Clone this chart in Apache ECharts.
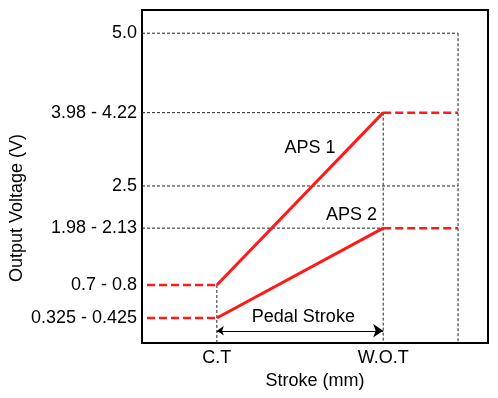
<!DOCTYPE html>
<html>
<head>
<meta charset="utf-8">
<script src="https://cdn.jsdelivr.net/npm/echarts@6/dist/echarts.min.js"></script>
<style>
html, body { margin: 0; padding: 0; background: #fff; }
#chart { width: 498px; height: 398px; }
</style>
</head>
<body>
<div id="chart"></div>
<script>
// schematic levels of the sketch (not to scale) and the labels printed there
const yLevels = [0.34, 0.88, 1.81, 2.5, 3.7, 5.0];
const yLabels = ["0.325 - 0.425", "0.7 - 0.8", "1.98 - 2.13", "2.5", "3.98 - 4.22", "5.0"];
const xLevels = [0, 100];
const xLabels = ["C.T", "W.O.T"];
const xRange = [-45, 163];
const yRange = [-0.07, 5.38];
const farStroke = 145;
const idleStart = -42;
const aps1 = [[0, 0.88], [100, 3.7]];
const aps2 = [[0, 0.34], [100, 1.81]];
const notes = [[56, 3.12, "APS 1"], [81, 2.03, "APS 2"], [52, 0.35, "Pedal Stroke"]];
const arrowLevel = 0.13;

const [lvLow, lvIdle, lvAps2, lvMid, lvAps1, lvTop] = yLevels;
const [ct, wot] = xLevels;
const bottom = yRange[0];

const blackDash = [
  [[xRange[0], lvTop], [farStroke, lvTop]],
  [[farStroke, lvTop], [farStroke, bottom]],
  [[xRange[0], lvMid], [farStroke, lvMid]],
  [[xRange[0], lvAps1], [wot, lvAps1]],
  [[xRange[0], lvAps2], [wot, lvAps2]],
  [[wot, lvAps1], [wot, bottom]],
  [[ct, lvIdle], [ct, bottom]],
];
const redDash = [
  [[idleStart, lvIdle], [ct, lvIdle]],
  [[idleStart, lvLow], [ct, lvLow]],
  [[wot, lvAps1], [farStroke, lvAps1]],
  [[wot, lvAps2], [farStroke, lvAps2]],
];

const font = "Liberation Sans";
const red = "#ff1a1a";
const ink = "#000";

function seg(pts, style, z) {
  return { type: "line", data: pts, symbol: "none", silent: true, z: z, lineStyle: style };
}
function pick(levels, labels, v) {
  const i = levels.findIndex((l) => Math.abs(l - v) < 1e-6);
  return i < 0 ? "" : labels[i];
}

const series = [
  ...blackDash.map((p) => seg(p, { color: "#222", width: 1, type: [3, 2] }, 2)),
  ...redDash.map((p) => seg(p, { color: red, width: 2.5, type: [8, 4] }, 3)),
  seg(aps1, { color: red, width: 3 }, 4),
  seg(aps2, { color: red, width: 3 }, 4),
  {
    type: "lines",
    coordinateSystem: "cartesian2d",
    symbol: ["arrow", "arrow"],
    symbolSize: [7, 10],
    silent: true,
    lineStyle: { color: "#000", width: 1, opacity: 1 },
    data: [{ coords: [[ct, arrowLevel], [wot, arrowLevel]] }],
  },
  {
    type: "scatter",
    symbolSize: 0,
    silent: true,
    itemStyle: { opacity: 1 },
    data: notes,
    label: {
      show: true,
      position: "inside",
      formatter: (p) => p.value[2],
      color: ink,
      opacity: 1,
      fontSize: 18,
      fontFamily: font,
    },
  },
];

const chart = echarts.init(document.getElementById("chart"));
chart.setOption({
  animation: false,
  grid: {
    left: 142, right: 10, top: 10, bottom: 55,
    outerBoundsMode: "none",
    show: true, borderColor: "#000", borderWidth: 2,
  },
  graphic: [
    {
      type: "text",
      x: 17,
      y: 208,
      rotation: Math.PI / 2,
      style: { text: "Output Voltage (V)", fill: ink, font: "18px " + font, align: "center", verticalAlign: "middle" },
    },
  ],
  xAxis: {
    type: "value",
    min: xRange[0],
    max: xRange[1],
    name: "Stroke (mm)",
    nameLocation: "middle",
    nameGap: 26,
    nameTextStyle: { color: ink, fontSize: 18, fontFamily: font },
    axisLine: { show: false },
    axisTick: { show: false },
    splitLine: { show: false },
    axisLabel: {
      customValues: xLevels,
      formatter: (v) => pick(xLevels, xLabels, v),
      color: ink,
      fontSize: 18,
      fontFamily: font,
      margin: 6,
    },
  },
  yAxis: {
    type: "value",
    min: yRange[0],
    max: yRange[1],
    axisLine: { show: false },
    axisTick: { show: false },
    splitLine: { show: false },
    axisLabel: {
      customValues: yLevels,
      formatter: (v) => pick(yLevels, yLabels, v),
      color: ink,
      fontSize: 18,
      fontFamily: font,
      margin: 5,
    },
  },
  series: series,
});
</script>
</body>
</html>
